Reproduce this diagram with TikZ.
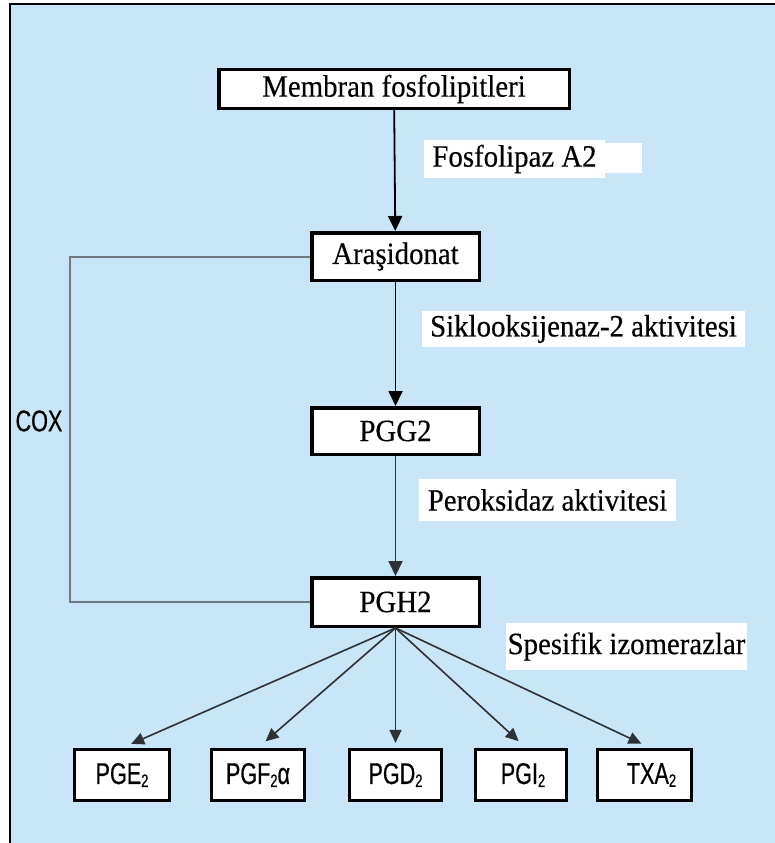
\documentclass[tikz,border=0pt]{standalone}
\usepackage{fontspec}
\setmainfont{Liberation Serif}[FakeStretch=0.93, FakeBold=0.4]
\newfontfamily\narrowsans{Liberation Sans}[FakeStretch=0.72, FakeBold=0.5]
\usetikzlibrary{arrows.meta}

\definecolor{panelblue}{RGB}{201,229,248}
\definecolor{coxgray}{RGB}{112,120,128}
\definecolor{fanline}{RGB}{45,48,52}

% subscript two for the sans product labels
\newcommand{\subtwo}{\raisebox{-3pt}{\fontsize{18}{18}\selectfont 2}}

\tikzset{
  stagebox/.style={draw=black, line width=3.5pt, fill=white, inner sep=0pt,
    font=\fontsize{31}{32}\selectfont},
  productbox/.style={draw=black, line width=3.2pt, fill=white, inner sep=0pt,
    minimum width=#1, minimum height=51pt, font=\narrowsans\fontsize{30}{31}\selectfont},
  enzymelabel/.style={fill=white, inner sep=0pt, font=\fontsize{31}{32}\selectfont},
  flow/.style={line width=1.8pt, -{Triangle[length=15pt,width=14pt]}},
  fan/.style={draw=fanline, line width=1.6pt, -{Triangle[length=13pt,width=12pt]}, shorten >=10pt},
  coxline/.style={draw=coxgray, line width=2pt},
}

\begin{document}
\begin{tikzpicture}[x=1pt, y=-1pt]
\useasboundingbox (0,0) rectangle (775,843);

% panel background and its frame
\fill[panelblue] (10,4) rectangle (775,843);
\draw[line width=2.5pt, black] (10,843) -- (10,4) -- (775,4);

% pathway stages
\node[stagebox, minimum width=350.5pt, minimum height=38.5pt] (mem) at (394,89) {Membran fosfolipitleri};
\node[stagebox, minimum width=167.5pt, minimum height=47.5pt] (ara) at (395.5,256.5) {Araşidonat};
\node[stagebox, minimum width=167.5pt, minimum height=46.5pt] (pgg) at (395.5,431) {PGG2};
\node[stagebox, minimum width=167.5pt, minimum height=48.5pt] (pgh) at (395.5,602) {PGH2};

% enzyme labels
\fill[white] (600,143) rectangle (642,173);
\node[enzymelabel, minimum width=181pt, minimum height=38pt] (pla) at (514.5,159) {Fosfolipaz A2};
\node[enzymelabel, minimum width=323pt, minimum height=36pt] (cox2) at (583.5,329) {Siklooksijenaz-2 aktivitesi};
\node[enzymelabel, minimum width=257pt, minimum height=42pt] (perox) at (547.5,500) {Peroksidaz aktivitesi};
\node[enzymelabel, minimum width=241pt, minimum height=47pt] (isom) at (626.5,646.5) {Spesifik izomerazlar};

% main chain
\draw[flow, black] (mem) -- (ara);
\draw[flow, black] (ara) -- (pgg);
\draw[flow, draw=fanline, fill=black] (pgg) -- (pgh);

% COX bracket spanning both enzyme steps
\coordinate (coxrail) at (70,430);
\draw[coxline] (ara.west) -- (ara.west -| coxrail) |- (pgh.west);
\node[font=\narrowsans\fontsize{30}{31}\selectfont, inner sep=0pt] (coxlabel) at (39,421) {COX};

% end products
\node[productbox=95pt] (pge) at (122,775) {PGE\subtwo};
\node[productbox=93pt] (pgf) at (258,775) {PGF\subtwo α};
\node[productbox=92pt] (pgd) at (395.5,775) {PGD\subtwo};
\node[productbox=91pt] (pgi) at (521,775) {\hspace*{4pt}PGI\subtwo};
\node[productbox=94pt] (txa) at (644.5,775) {\hspace*{14pt}TXA\subtwo};

% isomerase fan
\draw[fan] (pgh.south) -- (pge.north);
\draw[fan] (pgh.south) -- (pgf.north);
\draw[fan, shorten >=5pt] (pgh.south) -- (pgd.north);
\draw[fan] (pgh.south) -- ([xshift=5pt]pgi.north);
\draw[fan] (pgh.south) -- ([xshift=6pt]txa.north);
\end{tikzpicture}
\end{document}
